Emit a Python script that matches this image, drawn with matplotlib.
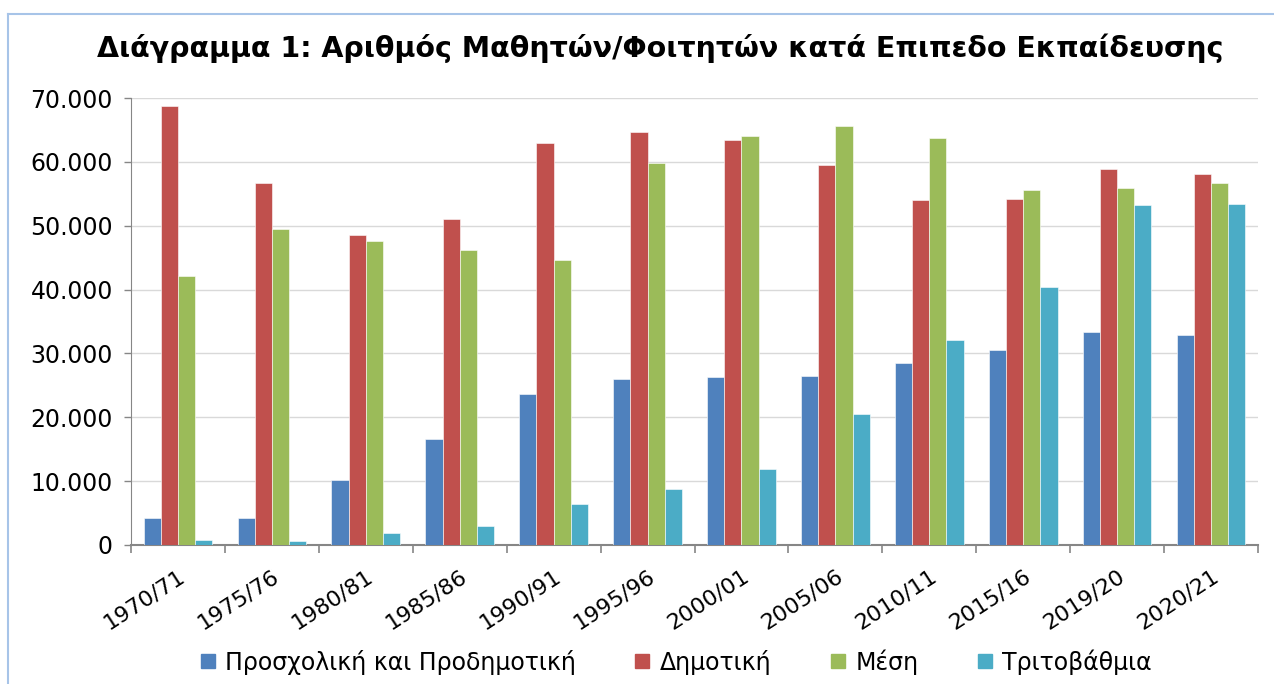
import matplotlib
matplotlib.use("Agg")
import matplotlib.pyplot as plt
import numpy as np
from matplotlib.ticker import FuncFormatter, FixedLocator
from matplotlib.lines import Line2D

plt.rcParams['font.family'] = ['DejaVu Sans']

categories = ["1970/71", "1975/76", "1980/81", "1985/86", "1990/91", "1995/96",
              "2000/01", "2005/06", "2010/11", "2015/16", "2019/20", "2020/21"]
series_names = ["Προσχολική και Προδημοτική", "Δημοτική", "Μέση", "Τριτοβάθμια"]
prosxoliki = [4180, 4180, 10240, 16660, 23660, 26070, 26280, 26490, 28470, 30510, 33280, 32910]
dimotiki = [68700, 56630, 48580, 50990, 62900, 64670, 63470, 59450, 54020, 54230, 58880, 58040]
mesi = [42160, 49420, 47590, 46180, 44560, 59870, 64050, 65670, 63680, 55640, 55850, 56630]
tritovathmia = [730, 575, 1830, 2980, 6370, 8830, 11860, 20480, 32130, 40380, 53230, 53390]
colors = ["#4F81BD", "#C0504D", "#9BBB59", "#4BACC6"]
title = "Διάγραμμα 1: Αριθμός Μαθητών/Φοιτητών κατά Επιπεδο Εκπαίδευσης"

W, H = 1274, 684
fig = plt.figure(figsize=(W / 100, H / 100), dpi=100)
ax = fig.add_axes([131 / W, 1 - 545 / H, (1258 - 131) / W, (545 - 98) / H])

x = np.arange(len(categories))
w = 0.183
data = [prosxoliki, dimotiki, mesi, tritovathmia]
for i, (vals, c) in enumerate(zip(data, colors)):
    ax.bar(x + (i - 1.5) * w, vals, width=w, color=c, edgecolor="#ffffff",
           linewidth=0.4, zorder=3, label=series_names[i])

ax.set_xlim(-0.5, len(categories) - 0.5)
ax.set_ylim(0, 70000)
ax.set_yticks(np.arange(0, 70001, 10000))
ax.yaxis.set_major_formatter(FuncFormatter(lambda v, p: f"{int(v):,}".replace(",", ".")))
ax.grid(axis="y", color="#D9D9D9", linewidth=1.0, zorder=0)

ax.xaxis.set_major_locator(FixedLocator(np.arange(-0.5, len(categories), 1.0)))
ax.xaxis.set_major_formatter(plt.NullFormatter())
ax.set_xticks(x, minor=True)
ax.set_xticklabels(categories, minor=True, rotation=33, ha="right", va="top",
                   rotation_mode="anchor", fontsize=16)
ax.tick_params(axis="x", which="minor", length=0, pad=15)
ax.tick_params(axis="x", which="major", length=6, width=1.2, color="#868686")
ax.tick_params(axis="y", length=5, width=1.0, color="#868686", labelsize=17, pad=8)

for s in ["top", "right"]:
    ax.spines[s].set_visible(False)
ax.spines["left"].set_color("#868686")
ax.spines["bottom"].set_color("#868686")
ax.spines["bottom"].set_linewidth(1.5)

fig.text(0.518, 1 - 48 / H, title, ha="center", va="center", fontsize=20.5, fontweight="bold")

handles = [Line2D([0], [0], marker="s", linestyle="none", markersize=10,
                  markerfacecolor=c, markeredgecolor=c) for c in colors]
fig.legend(handles, series_names, loc="center", bbox_to_anchor=(674 / W, 1 - 662 / H),
           ncol=4, frameon=False, fontsize=17, handletextpad=0.25, columnspacing=2.3,
           handlelength=1.0, borderpad=0, borderaxespad=0)

# chart border (light blue)
fig.add_artist(Line2D([8 / W, 8 / W], [0, 1 - 14 / H], transform=fig.transFigure,
                      color="#A7C4E8", linewidth=1.5))
fig.add_artist(Line2D([8 / W, 1], [1 - 14 / H, 1 - 14 / H], transform=fig.transFigure,
                      color="#A7C4E8", linewidth=1.5))

fig.savefig("out.png", dpi=100)
